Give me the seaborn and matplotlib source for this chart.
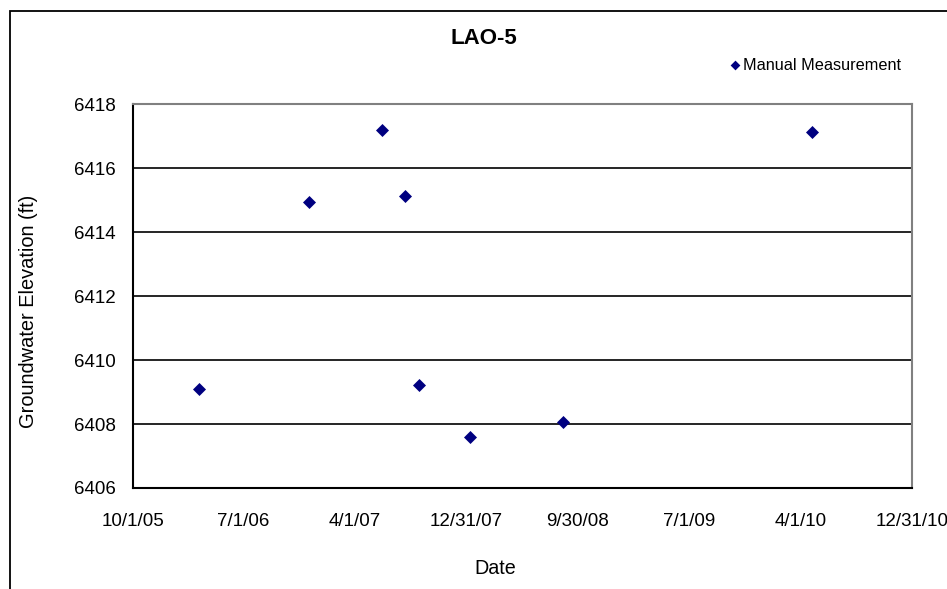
import pandas as pd
import matplotlib
matplotlib.use('Agg')
import matplotlib.pyplot as plt
from matplotlib.patches import Rectangle
import seaborn as sns

dates = ['2006-03-14', '2006-12-09', '2007-06-06', '2007-08-02',
         '2007-09-05', '2008-01-09', '2008-08-25', '2010-04-28']
elevation = [6409.10, 6414.95, 6417.20, 6415.12, 6409.22, 6407.58, 6408.06, 6417.12]

tick_dates = ['2005-10-01', '2006-07-01', '2007-04-01', '2007-12-31',
              '2008-09-30', '2009-07-01', '2010-04-01', '2010-12-31']
tick_labels = ['10/1/05', '7/1/06', '4/1/07', '12/31/07',
               '9/30/08', '7/1/09', '4/1/10', '12/31/10']
y_ticks = [6406, 6408, 6410, 6412, 6414, 6416, 6418]

df = pd.DataFrame({'Date': pd.to_datetime(dates), 'Elevation': elevation})

sns.set_style('white')
plt.rcParams['font.family'] = ['Liberation Sans', 'DejaVu Sans']
plt.rcParams['text.color'] = 'black'

fig = plt.figure(figsize=(9.47, 5.89), dpi=100)
ax = fig.add_axes([132.7 / 947, 1 - 488 / 589, (912 - 132.7) / 947, (488 - 104.3) / 589])

sns.scatterplot(data=df, x='Date', y='Elevation', marker='D', color='#000080',
                s=44, linewidth=0, label='Manual Measurement', ax=ax, zorder=3)

# axes look like the old Excel chart
ax.set_xlim(pd.Timestamp(tick_dates[0]), pd.Timestamp(tick_dates[-1]))
ax.set_ylim(6406, 6418)
ax.set_xticks(pd.to_datetime(tick_dates))
ax.set_xticklabels(tick_labels)
ax.set_yticks(y_ticks)
ax.tick_params(axis='both', direction='out', length=6, width=1.2, colors='black',
               labelcolor='black', labelsize=13.5, pad=6)
ax.tick_params(axis='x', pad=12)
ax.yaxis.grid(True, color='black', linewidth=1.2)
ax.set_axisbelow(True)
ax.set_xlabel('')
ax.set_ylabel('')
for side in ['left', 'bottom']:
    ax.spines[side].set_color('black')
    ax.spines[side].set_linewidth(1.5)
for side in ['top', 'right']:
    ax.spines[side].set_color('#808080')
    ax.spines[side].set_linewidth(1.5)

# titles and labels
fig.text(484 / 947, 1 - 38 / 589, 'LAO-5', ha='center', va='center',
         fontsize=16, fontweight='bold', color='black')
fig.text(495 / 947, 1 - 569 / 589, 'Date', ha='center', va='center',
         fontsize=14.2, color='black')
fig.text(29 / 947, 1 - 311 / 589, 'Groundwater Elevation (ft)', ha='center',
         va='center', rotation=90, fontsize=14.4, color='black')

ax.legend(loc='center left', bbox_to_anchor=(722 / 947, 1 - 65 / 589),
          bbox_transform=fig.transFigure, frameon=False, fontsize=11.7,
          handlelength=0.6, handletextpad=0.2, borderpad=0, markerscale=0.75)

# chart area border
fig.patches.append(Rectangle((9.5 / 947, -0.05), 1.2, 1.05 - 10.5 / 589,
                             transform=fig.transFigure, fill=False,
                             edgecolor='black', linewidth=1.3))

fig.savefig('out.png', dpi=100)
